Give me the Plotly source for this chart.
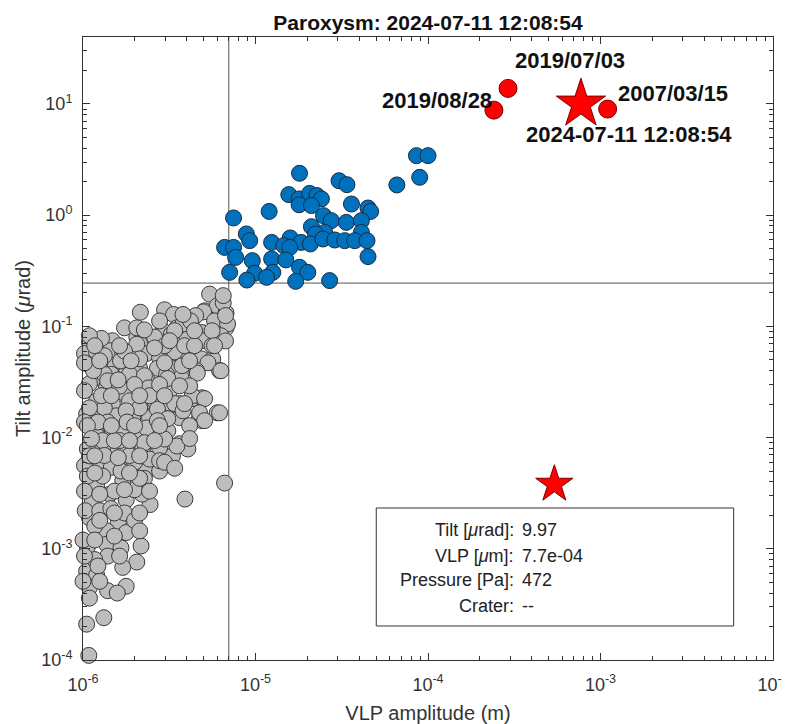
import math
import plotly.graph_objects as go

# ---------------- data ----------------
grey_vlp = [
    5.42e-6, 2.15e-6, 2.97e-6, 3.35e-6, 4.3e-6, 5.07e-6, 6.0e-6, 6.75e-6, 6.5e-6, 6.19e-6,
    6.75e-6, 5.9e-6, 4.74e-6, 4.0e-6, 3.5e-6, 2.9e-6, 2.6e-6, 2.05e-6, 1.74e-6, 1.48e-6,
    1.25e-6, 1.09e-6, 1.02e-6, 1.2e-6, 1.43e-6, 1.7e-6, 2.13e-6, 2.33e-6, 2.78e-6, 3.3e-6,
    3.88e-6, 4.85e-6, 5.65e-6, 6.19e-6, 5.3e-6, 4.55e-6, 3.5e-6, 2.7e-6, 2.13e-6, 1.78e-6,
    1.48e-6, 1.25e-6, 1.06e-6, 0.99e-6, 1.2e-6, 1.46e-6, 1.86e-6, 2.33e-6, 3.05e-6, 3.7e-6,
    1.09e-6, 1.37e-6, 1.74e-6, 2.22e-6, 2.7e-6, 3.18e-6, 0.99e-6, 1.2e-6, 1.48e-6, 1.86e-6,
    2.22e-6, 2.6e-6, 3.18e-6, 3.63e-6, 4.3e-6, 4.9e-6, 6.0e-6, 4.74e-6, 4.9e-6, 1.05e-6,
    1.25e-6, 1.56e-6, 1.94e-6, 2.43e-6, 3.05e-6, 3.63e-6, 0.99e-6, 1.2e-6, 1.48e-6, 1.78e-6,
    2.13e-6, 2.55e-6, 3.1e-6, 3.63e-6, 4.05e-6, 3.3e-6, 2.78e-6, 2.22e-6, 1.78e-6, 1.43e-6,
    1.13e-6, 0.99e-6, 1.05e-6, 1.25e-6, 1.56e-6, 1.94e-6, 2.33e-6, 2.78e-6, 5.0e-6, 4.5e-6,
    2.05e-6, 2.27e-6, 3.25e-6, 3.8e-6, 4.2e-6, 5.79e-6, 6.89e-6, 4.9e-6, 1.28e-6, 1.65e-6,
    2.05e-6, 3.4e-6, 3.88e-6, 4.9e-6, 6.3e-6, 6.3e-6, 4.6e-6, 3.75e-6, 2.27e-6, 1.33e-6,
    2.4e-6, 3.1e-6, 4.3e-6, 5.07e-6, 3.4e-6, 2.7e-6, 2.13e-6, 1.78e-6, 1.33e-6, 1.09e-6,
    1.02e-6, 1.2e-6, 1.68e-6, 2.33e-6, 3.1e-6, 3.8e-6, 4.74e-6, 6.19e-6, 5.07e-6, 3.5e-6,
    2.97e-6, 2.27e-6, 1.6e-6, 1.06e-6, 1.02e-6, 1.46e-6, 1.99e-6, 2.27e-6, 1.7e-6, 1.2e-6,
    0.98e-6, 6.62e-6, 3.9e-6, 2.45e-6, 2.2e-6, 1.78e-6, 1.43e-6, 1.13e-6, 0.98e-6, 1.09e-6,
    1.6e-6, 1.37e-6, 0.99e-6, 1.78e-6, 1.06e-6, 1.37e-6, 1.66e-6, 2.17e-6, 1.39e-6, 2.05e-6,
    1.7e-6, 1.05e-6, 1.2e-6, 1.09e-6, 1.78e-6, 1.39e-6, 1.58e-6, 0.98e-6, 1.09e-6, 0.99e-6,
    1.05e-6, 1.32e-6, 1.08e-6, 1.02e-6, 1.09e-6, 1.06e-6, 1.03e-6, 1.17e-6, 1.0e-6, 1.17e-6,
    1.33e-6, 1.39e-6, 1.28e-6, 1.39e-6, 1.3e-6, 1.33e-6, 1.3e-6, 1.52e-6, 1.25e-6, 1.45e-6,
    1.74e-6, 1.63e-6, 1.8e-6, 1.63e-6, 1.86e-6, 1.66e-6, 1.99e-6, 1.74e-6, 2.13e-6, 2.43e-6,
    2.7e-6, 2.43e-6, 2.78e-6, 1.99e-6, 1.15e-6, 1.22e-6, 1.52e-6, 2.13e-6, 2.97e-6, 4.15e-6,
    4.43e-6, 5.6e-6, 6.7e-6, 6.5e-6, 3.4e-6,
    1.09e-6, 3.18e-6, 1.17e-6, 1.63e-6, 2.6e-6, 1.02e-6, 1.25e-6, 1.9e-6, 2.97e-6, 4.15e-6,
    1.6e-6, 1.99e-6, 2.78e-6, 3.63e-6, 1.46e-6, 2.13e-6, 2.97e-6, 3.88e-6, 1.06e-6, 1.46e-6,
    1.99e-6, 2.78e-6, 4.15e-6, 1.12e-6, 1.86e-6, 2.6e-6, 4.15e-6, 1.17e-6, 1.6e-6, 2.13e-6,
    2.97e-6, 1.17e-6, 1.86e-6, 3.4e-6, 1.02e-6, 1.25e-6, 1.74e-6, 2.43e-6, 1.25e-6, 2.13e-6,
    1.52e-6, 1.17e-6, 1.52e-6, 2.13e-6, 1.02e-6, 1.63e-6, 1.22e-6, 1.0e-6, 1.25e-6, 4.43e-6,
    5.6e-6, 6.7e-6, 3.8e-6, 2.78e-6, 5.79e-6,
]
grey_tilt = [
    0.195, 0.134, 0.141, 0.128, 0.116, 0.138, 0.153, 0.132, 0.163, 0.112,
    0.097, 0.097, 0.086, 0.080, 0.097, 0.0914, 0.080, 0.080, 0.097, 0.0743,
    0.072, 0.072, 0.057, 0.057, 0.0604, 0.057, 0.070, 0.057, 0.052, 0.057,
    0.051, 0.051, 0.051, 0.040, 0.047, 0.040, 0.042, 0.042, 0.042, 0.042,
    0.0443, 0.046, 0.046, 0.0345, 0.0345, 0.037, 0.037, 0.0345, 0.037, 0.0345,
    0.0305, 0.0285, 0.025, 0.0285, 0.0285, 0.0264, 0.0224, 0.0214, 0.0202, 0.0214,
    0.0202, 0.0214, 0.0202, 0.0202, 0.0224, 0.0228, 0.0167, 0.0151, 0.0142, 0.0163,
    0.0163, 0.0157, 0.0151, 0.0151, 0.0148, 0.0151, 0.0115, 0.0108, 0.0115, 0.0108,
    0.0115, 0.0115, 0.0115, 0.0088, 0.0079, 0.00685, 0.0081, 0.0081, 0.0081, 0.0081,
    0.0081, 0.0081, 0.0058, 0.0062, 0.0058, 0.0058, 0.0050, 0.0050, 0.135, 0.125,
    0.097, 0.093, 0.085, 0.105, 0.112, 0.112, 0.105, 0.088, 0.078, 0.049,
    0.069, 0.059, 0.067, 0.0743, 0.0824, 0.0399, 0.038, 0.0443, 0.036, 0.037,
    0.028, 0.034, 0.0238, 0.0224, 0.0202, 0.018, 0.0185, 0.0174, 0.0185, 0.0185,
    0.0138, 0.0104, 0.012, 0.0122, 0.0148, 0.0174, 0.0167, 0.0167, 0.0142, 0.0084,
    0.0097, 0.009, 0.0079, 0.0079, 0.0056, 0.0054, 0.006, 0.0043, 0.0041, 0.0037,
    0.0040, 0.0039, 0.0028, 0.0025, 0.0031, 0.00275, 0.0031, 0.0026, 0.0028, 0.0019,
    0.00172, 0.00145, 0.0014, 0.0014, 0.00104, 0.0011, 0.00102, 0.00106, 0.00086, 0.00076,
    0.00068, 0.00063, 0.00058, 0.00045, 0.00046, 0.00042, 0.0004, 0.00036, 0.00036, 0.00026,
    0.00021, 0.00024, 0.00011, 0.0264, 0.00685, 0.0045, 0.0022, 0.0016, 0.0012, 0.0008,
    0.0545, 0.0324, 0.0238, 0.0138, 0.0094, 0.0069, 0.0045, 0.0033, 0.0022, 0.0023,
    0.06, 0.029, 0.0138, 0.0094, 0.0069, 0.005, 0.0034, 0.0021, 0.051, 0.0238,
    0.0142, 0.0064, 0.0062, 0.0018, 0.04, 0.0138, 0.0094, 0.0043, 0.067, 0.0292,
    0.067, 0.067, 0.074, 0.189, 0.0914,
    0.0824, 0.0743, 0.067, 0.067, 0.064, 0.047, 0.049, 0.049, 0.047, 0.049,
    0.033, 0.030, 0.030, 0.0292, 0.0238, 0.0238, 0.0238, 0.0202, 0.0128, 0.0128,
    0.0128, 0.0128, 0.0128, 0.0098, 0.0094, 0.0094, 0.0098, 0.00685, 0.0066, 0.00685,
    0.006, 0.0048, 0.0048, 0.0053, 0.0033, 0.0031, 0.0034, 0.0033, 0.0018, 0.0021,
    0.0021, 0.0012, 0.0013, 0.00145, 0.00086, 0.00086, 0.0007, 0.00051, 0.00051, 0.0914,
    0.0914, 0.125, 0.128, 0.112, 0.067,
]

blue_vlp = [
    8.57e-5, 1.0e-4, 8.95e-5, 6.6e-5, 1.80e-5, 3.05e-5, 3.39e-5, 1.56e-5, 1.79e-5, 2.06e-5,
    2.27e-5, 2.41e-5, 1.79e-5, 2.11e-5, 3.60e-5, 4.49e-5, 4.65e-5, 1.20e-5, 7.46e-6, 2.48e-5,
    2.75e-5, 3.36e-5, 4.11e-5, 2.11e-5, 2.52e-5, 4.11e-5, 2.23e-5, 8.85e-6, 9.25e-6, 1.24e-5,
    1.59e-5, 1.84e-5, 2.08e-5, 2.46e-5, 2.88e-5, 3.29e-5, 3.76e-5, 4.43e-5, 1.46e-5, 1.58e-5,
    6.62e-6, 7.46e-6, 7.67e-6, 9.58e-6, 1.24e-5, 1.50e-5, 4.49e-5, 7.08e-6, 9.88e-6, 1.26e-5,
    1.16e-5, 8.91e-6, 1.80e-5, 2.01e-5, 1.71e-5, 2.69e-5,
]
blue_tilt = [
    3.43, 3.43, 2.19, 1.87, 2.38, 2.04, 1.88, 1.53, 1.40, 1.57,
    1.50, 1.40, 1.24, 1.22, 1.26, 1.16, 1.08, 1.08, 0.944, 0.99,
    0.893, 0.861, 0.893, 0.788, 0.700, 0.700, 0.678, 0.678, 0.590, 0.569,
    0.624, 0.569, 0.551, 0.611, 0.598, 0.590, 0.590, 0.590, 0.532, 0.513,
    0.513, 0.513, 0.417, 0.390, 0.404, 0.396, 0.424, 0.306, 0.300, 0.306,
    0.276, 0.261, 0.340, 0.306, 0.254, 0.258,
]

red_vlp = [2.41e-4, 2.91e-4, 1.10e-3]
red_tilt = [8.8, 13.8, 9.0]
red_labels = ["2019/08/28", "2019/07/03", "2007/03/15"]

event_vlp = 7.7e-4
event_tilt = 9.97
event_label = "2024-07-11 12:08:54"

pressure_star_vlp = 5.4e-4
pressure_star_tilt = 3.8e-3

vlp_threshold = 7e-6
tilt_threshold = 0.245

x_range = [1e-6, 1e-2]
y_range = [1e-4, 40]

box_keys = ["Tilt [<i>μ</i>rad]:", "VLP [<i>μ</i>m]:", "Pressure [Pa]:", "Crater:"]
box_vals = ["9.97", "7.7e-04", "472", "--"]

x_ticks = [1e-6, 1e-5, 1e-4, 1e-3, 1e-2]
x_ticktext = ["10<sup>-6</sup>", "10<sup>-5</sup>", "10<sup>-4</sup>", "10<sup>-3</sup>", "10<sup>-2</sup>"]
y_ticks = [1e-4, 1e-3, 1e-2, 1e-1, 1e0, 1e1]
y_ticktext = ["10<sup>-4</sup>", "10<sup>-3</sup>", "10<sup>-2</sup>", "10<sup>-1</sup>", "10<sup>0</sup>", "10<sup>1</sup>"]

FONT = "Arial, Liberation Sans, Helvetica, sans-serif"
AXC = "#333333"

x_minor = [m * 10.0 ** k for k in range(-6, -2) for m in range(2, 10)]
y_minor = [m * 10.0 ** k for k in range(-4, 1) for m in range(2, 10)] + [20, 30]

# the page body adds an 8px offset, so the figure is 8px smaller than the window
FIG_W, FIG_H = 782, 716

fig = go.Figure()

# reference lines
fig.add_trace(go.Scatter(x=[vlp_threshold, vlp_threshold], y=y_range, mode="lines",
                         line=dict(color="#555555", width=1), showlegend=False, hoverinfo="skip"))
fig.add_trace(go.Scatter(x=x_range, y=[tilt_threshold, tilt_threshold], mode="lines",
                         line=dict(color="#555555", width=1), showlegend=False, hoverinfo="skip"))

fig.add_trace(go.Scatter(x=grey_vlp, y=grey_tilt, mode="markers", cliponaxis=False,
                         marker=dict(size=16, color="#bdbdbd", line=dict(color="#3a3a3a", width=1)),
                         showlegend=False))
fig.add_trace(go.Scatter(x=blue_vlp, y=blue_tilt, mode="markers", cliponaxis=False,
                         marker=dict(size=16, color="#0072bd", line=dict(color="#1a2a40", width=1)),
                         showlegend=False))
fig.add_trace(go.Scatter(x=red_vlp, y=red_tilt, mode="markers", cliponaxis=False,
                         marker=dict(size=18, color="#ff0000", line=dict(color="#7a0000", width=1)),
                         showlegend=False))
fig.add_trace(go.Scatter(x=[event_vlp], y=[event_tilt], mode="markers", cliponaxis=False,
                         marker=dict(symbol="star", size=37, color="#ff0000", line=dict(color="#7a0000", width=1)),
                         showlegend=False))
fig.add_trace(go.Scatter(x=[pressure_star_vlp], y=[pressure_star_tilt], mode="markers", cliponaxis=False,
                         marker=dict(symbol="star", size=28, color="#ff0000", line=dict(color="#7a0000", width=1)),
                         showlegend=False))

lab_font = dict(family=FONT, size=22, color="#111111")
# red point labels: (anchor, xshift, yshift)
placements = [("right", 0, 10), ("left", 5, 28), ("left", 8, 16)]
for v, t, lab, (anc, dx, dy) in zip(red_vlp, red_tilt, red_labels, placements):
    fig.add_annotation(x=math.log10(v), y=math.log10(t), xref="x", yref="y", text=f"<b>{lab}</b>",
                       showarrow=False, xanchor=anc, yanchor="middle", xshift=dx, yshift=dy, font=lab_font)
fig.add_annotation(x=math.log10(event_vlp), y=math.log10(event_tilt), xref="x", yref="y",
                   text=f"<b>{event_label}</b>", showarrow=False, xanchor="left", yanchor="middle",
                   xshift=-57, yshift=-30, font=lab_font)

# info box
fig.add_shape(type="rect", xref="paper", yref="paper", x0=0.425, x1=0.943, y0=0.0546, y1=0.244,
              line=dict(color="#333333", width=1), fillcolor="white", layer="above")
box_y = [0.2087, 0.1674, 0.1284, 0.0872]
box_font = dict(family=FONT, size=18, color="#222222")
for k, val, yy in zip(box_keys, box_vals, box_y):
    fig.add_annotation(x=0.627, y=yy, xref="paper", yref="paper", text=k, showarrow=False,
                       xanchor="right", yanchor="middle", font=box_font)
    fig.add_annotation(x=0.633, y=yy, xref="paper", yref="paper", text=val, showarrow=False,
                       xanchor="left", yanchor="middle", font=box_font)

fig.update_layout(
    width=FIG_W, height=FIG_H,
    margin=dict(l=75, r=17, t=29, b=64, autoexpand=False),
    paper_bgcolor="white", plot_bgcolor="white",
    title=dict(text="<b>Paroxysm: 2024-07-11 12:08:54</b>", x=0.5, xref="paper", xanchor="center",
               y=1 - 15 / FIG_H, yanchor="middle", yref="container", automargin=False,
               font=dict(family=FONT, size=21, color="#111111")),
    font=dict(family=FONT, color="#333333"),
)
fig.update_xaxes(
    type="log", range=[math.log10(x_range[0]), math.log10(x_range[1])], automargin=False,
    tickmode="array", tickvals=x_ticks, ticktext=x_ticktext,
    ticks="inside", ticklen=7, tickcolor=AXC, tickfont=dict(family=FONT, size=18, color="#333333"),
    ticklabelstandoff=8,
    minor=dict(tickmode="array", tickvals=x_minor, ticks="inside", ticklen=4, tickcolor=AXC, showgrid=False),
    showline=True, linecolor=AXC, linewidth=1, mirror="ticks", showgrid=False, zeroline=False,
    title=dict(text="VLP amplitude (m)", font=dict(family=FONT, size=20, color="#333333"), standoff=13),
)
fig.update_yaxes(
    type="log", range=[math.log10(y_range[0]), math.log10(y_range[1])], automargin=False,
    tickmode="array", tickvals=y_ticks, ticktext=y_ticktext,
    ticks="inside", ticklen=7, tickcolor=AXC, tickfont=dict(family=FONT, size=18, color="#333333"),
    ticklabelstandoff=6,
    minor=dict(tickmode="array", tickvals=y_minor, ticks="inside", ticklen=4, tickcolor=AXC, showgrid=False),
    showline=True, linecolor=AXC, linewidth=1, mirror="ticks", showgrid=False, zeroline=False,
    title=dict(text="Tilt amplitude (<i>μ</i>rad)", font=dict(family=FONT, size=20, color="#333333"), standoff=5),
)

fig.write_html("out.html")
